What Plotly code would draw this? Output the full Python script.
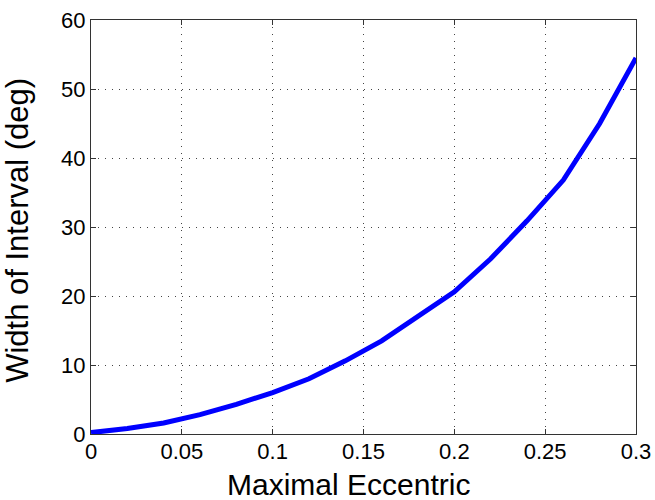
import plotly.graph_objects as go

ecc = [0.0, 0.02, 0.04, 0.06, 0.08, 0.10, 0.12, 0.14, 0.16, 0.18, 0.20, 0.22, 0.24, 0.26, 0.28, 0.30]
width_deg = [0.2, 0.8, 1.6, 2.8, 4.3, 6.0, 8.0, 10.6, 13.5, 17.0, 20.6, 25.4, 30.9, 36.8, 45.0, 54.5]

x_ticks = [0, 0.05, 0.1, 0.15, 0.2, 0.25, 0.3]
x_tick_text = ["0", "0.05", "0.1", "0.15", "0.2", "0.25", "0.3"]
y_ticks = [0, 10, 20, 30, 40, 50, 60]

x_title = "Maximal Eccentric"
y_title = "Width of Interval (deg)"

font = "Liberation Sans, Arial, sans-serif"

fig = go.Figure()
fig.add_trace(go.Scatter(x=ecc, y=width_deg, mode="lines",
                         line=dict(color="#0000ff", width=5), showlegend=False))

axis_common = dict(
    showline=True, linecolor="#333333", linewidth=1, mirror="allticks",
    ticks="inside", ticklen=5, tickcolor="#333333", tickwidth=1,
    showgrid=True, gridcolor="#444444", griddash="1px,6px", gridwidth=1,
    zeroline=False, automargin=False,
    tickfont=dict(family=font, size=22, color="black"),
)

fig.update_xaxes(range=[0, 0.3], tickvals=x_ticks, ticktext=x_tick_text,
                 ticklabelstandoff=-2, **axis_common)
fig.update_yaxes(range=[0, 60], tickvals=y_ticks, **axis_common)

fig.add_annotation(text=x_title, xref="paper", yref="paper", x=0.472, y=-0.121,
                   xanchor="center", yanchor="middle", showarrow=False,
                   font=dict(family=font, size=30, color="black"))
fig.add_annotation(text=y_title, xref="paper", yref="paper", x=-0.134, y=0.493,
                   xanchor="center", yanchor="middle", showarrow=False, textangle=-90,
                   font=dict(family=font, size=31, color="black"))

fig.update_layout(width=655, height=500, margin=dict(l=91, r=19, t=20, b=66, autoexpand=False),
                  paper_bgcolor="white", plot_bgcolor="white")

fig.write_html("out.html", config={"displayModeBar": False},
               post_script="document.body.style.margin='0';document.body.style.overflow='hidden';")
